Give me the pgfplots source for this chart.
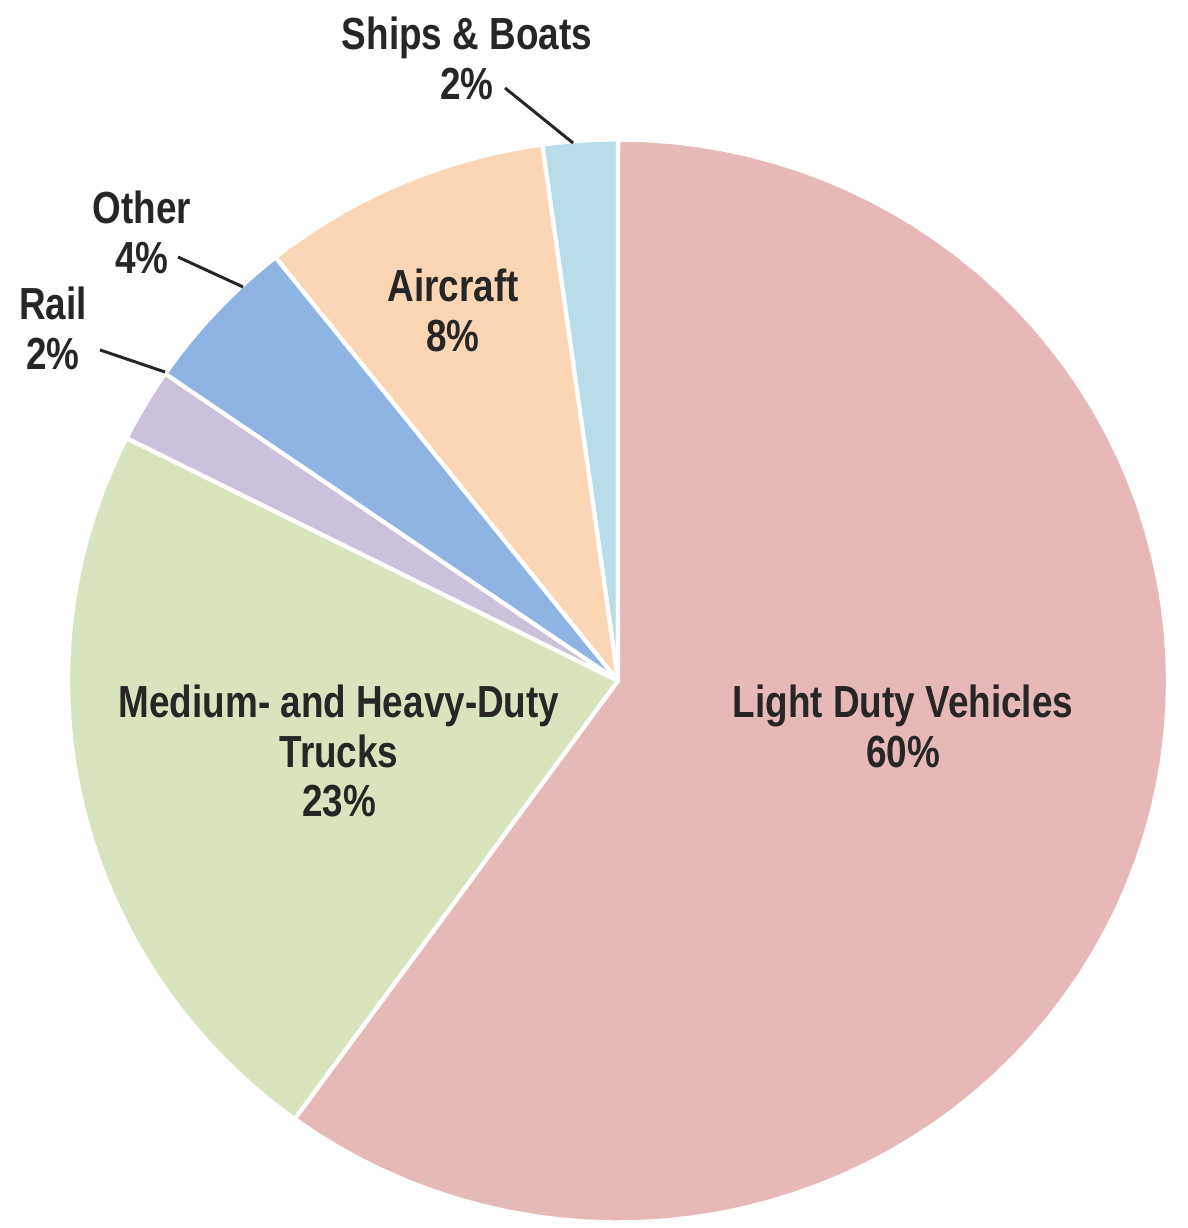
\documentclass[border=0pt]{standalone}
\usepackage{pgfplots}
\usepackage{pgfplotstable}
\usepackage{fontspec}
\setmainfont{Liberation Sans}[FakeStretch=0.82]
\pgfplotsset{compat=1.18}

\definecolor{ldv}{HTML}{E6B9B8}
\definecolor{medium}{HTML}{D7E4BD}
\definecolor{rail}{HTML}{CCC1DA}
\definecolor{other}{HTML}{8EB4E3}
\definecolor{aircraft}{HTML}{FCD5B5}
\definecolor{ships}{HTML}{B7DEE8}
\definecolor{labeltext}{HTML}{262626}

% shares in percent, counter-clockwise from 12 o'clock
\pgfplotstableread{
name      share  colour
Ships     2.2    ships
Aircraft  8.5    aircraft
Other     4.7    other
Rail      2.2    rail
Medium    22.4   medium
Light     60.0   ldv
}\sharetable

\begin{document}
\begin{tikzpicture}
\begin{axis}[
    scale only axis,
    width=11.87cm,
    height=12.28cm,
    xmin=-1.1236, xmax=1.0345,
    ymin=-1.0102, ymax=1.2576,
    hide axis,
    clip=false,
]
\path (rel axis cs:0,0) rectangle (rel axis cs:1,1);

\pgfplotstablegetrowsof{\sharetable}
\pgfmathtruncatemacro{\lastrow}{\pgfplotsretval-1}
\def\cum{0}
\pgfplotsforeachungrouped \i in {0,...,\lastrow}{%
    \pgfplotstablegetelem{\i}{share}\of\sharetable
    \let\share\pgfplotsretval
    \pgfplotstablegetelem{\i}{colour}\of\sharetable
    \let\slicecol\pgfplotsretval
    \pgfmathsetmacro{\angfrom}{90+3.6*\cum}
    \pgfmathsetmacro{\cum}{\cum+\share}
    \pgfmathsetmacro{\angto}{90+3.6*\cum}
    \edef\drawslice{\noexpand\addplot[fill=\slicecol, draw=white, line width=1.2pt,
        domain=\angfrom:\angto, samples=80]
        ({cos(x)},{sin(x)}) -- (axis cs:0,0) -- cycle;}
    \drawslice
}

\tikzset{lbl/.style={align=center, text=labeltext,
    font=\fontsize{12.8}{14.2}\selectfont\bfseries}}
\node[lbl] at (axis cs:-0.2745,1.1505) {Ships \& Boats\\2\%};
\node[lbl] at (axis cs:-0.8655,0.8292) {Other\\4\%};
\node[lbl] at (axis cs:-1.0273,0.6519) {Rail\\2\%};
\node[lbl] at (axis cs:-0.300,0.6851) {Aircraft\\8\%};
\node[lbl] at (axis cs:-0.5073,-0.1293) {Medium- and Heavy-Duty\\Trucks\\23\%};
\node[lbl] at (axis cs:0.5182,-0.0831) {Light Duty Vehicles\\60\%};

\draw[labeltext, line width=0.85pt] (axis cs:-0.2055,1.0951) -- (axis cs:-0.0818,0.9935);
\draw[labeltext, line width=0.85pt] (axis cs:-0.800,0.783) -- (axis cs:-0.6818,0.7276);
\draw[labeltext, line width=0.85pt] (axis cs:-0.9418,0.6113) -- (axis cs:-0.8236,0.5706);
\end{axis}
\end{tikzpicture}
\end{document}
